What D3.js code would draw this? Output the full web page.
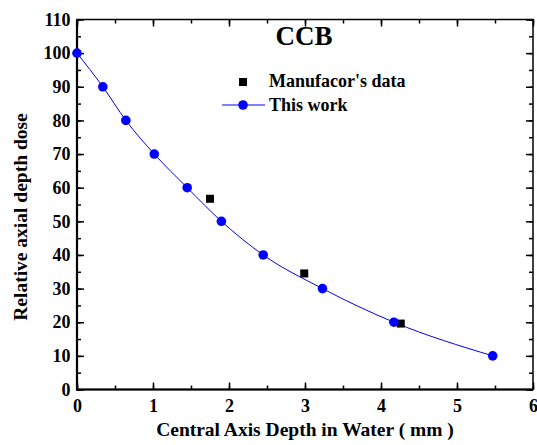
<!DOCTYPE html>
<html>
<head>
<meta charset="utf-8">
<script src="https://cdn.jsdelivr.net/npm/d3@7"></script>
<style>
  body { margin: 0; background: #fff; }
  text { font-family: "Liberation Serif", "Times New Roman", serif; font-weight: bold; }
</style>
</head>
<body>
<svg width="537" height="445"></svg>
<script>
// data
const workDepth = [0, 0.34, 0.643, 1.017, 1.45, 1.9, 2.45, 3.23, 4.17, 5.47];
const workDose  = [100, 90, 80, 70, 60, 50, 40, 30, 20, 10];
const manuDepth = [1.75, 2.99, 4.26];
const manuDose  = [56.7, 34.5, 19.6];
const xTicks = [0, 1, 2, 3, 4, 5, 6];
const yTicks = [0, 10, 20, 30, 40, 50, 60, 70, 80, 90, 100, 110];

const margin = { left: 77, right: 4, top: 19.5, bottom: 55.5 };
const width = 537, height = 445;
const svg = d3.select("svg");

const x = d3.scaleLinear().domain([0, 6]).range([margin.left, width - margin.right]);
const y = d3.scaleLinear().domain([0, 110]).range([height - margin.bottom, margin.top]);

const xMinor = d3.range(0, 6.01, 0.5);
const yMinor = d3.range(0, 110.1, 5);

// minor ticks
svg.append("g").attr("transform", `translate(0,${y(0)})`)
    .call(d3.axisBottom(x).tickValues(xMinor).tickSize(-4).tickFormat(""));
svg.append("g").attr("transform", `translate(0,${y(110)})`)
    .call(d3.axisTop(x).tickValues(xMinor).tickSize(-4).tickFormat(""));
svg.append("g").attr("transform", `translate(${x(0)},0)`)
    .call(d3.axisLeft(y).tickValues(yMinor).tickSize(-4).tickFormat(""));
svg.append("g").attr("transform", `translate(${x(6)},0)`)
    .call(d3.axisRight(y).tickValues(yMinor).tickSize(-4).tickFormat(""));

// major ticks + labels
const xAxis = svg.append("g").attr("transform", `translate(0,${y(0)})`)
    .call(d3.axisBottom(x).tickValues(xTicks).tickFormat(d3.format("d"))
        .tickSizeInner(-7).tickSizeOuter(0).tickPadding(10));
const yAxis = svg.append("g").attr("transform", `translate(${x(0)},0)`)
    .call(d3.axisLeft(y).tickValues(yTicks).tickFormat(d3.format("d"))
        .tickSizeInner(-7).tickSizeOuter(0).tickPadding(6.5));
svg.append("g").attr("transform", `translate(0,${y(110)})`)
    .call(d3.axisTop(x).tickValues(xTicks).tickSizeInner(-7).tickSizeOuter(0).tickFormat(""));
svg.append("g").attr("transform", `translate(${x(6)},0)`)
    .call(d3.axisRight(y).tickValues(yTicks).tickSizeInner(-7).tickSizeOuter(0).tickFormat(""));

svg.selectAll(".tick line").attr("stroke", "#000").attr("stroke-width", 1.5);
svg.selectAll(".domain").remove();
[xAxis, yAxis].forEach(a => a.selectAll("text")
    .attr("font-size", 18).attr("font-family", "Liberation Serif").attr("font-weight", "bold").attr("fill", "#000"));

// frame
svg.append("rect")
    .attr("x", x(0)).attr("y", y(110))
    .attr("width", x(6) - x(0)).attr("height", y(0) - y(110))
    .attr("fill", "none").attr("stroke", "#000").attr("stroke-width", 1.5);
svg.append("line").attr("x1", x(0)).attr("x2", x(0)).attr("y1", y(110)).attr("y2", y(0) + 1)
    .attr("stroke", "#000").attr("stroke-width", 2.2);
svg.append("line").attr("x1", x(0) - 1).attr("x2", x(6)).attr("y1", y(0)).attr("y2", y(0))
    .attr("stroke", "#000").attr("stroke-width", 2.2);

// this work curve
const work = workDepth.map((d, i) => ({ x: d, y: workDose[i] }));
svg.append("path").datum(work)
    .attr("fill", "none").attr("stroke", "#0000ff").attr("stroke-width", 1)
    .attr("d", d3.line().x(d => x(d.x)).y(d => y(d.y)).curve(d3.curveMonotoneX));

const manu = manuDepth.map((d, i) => ({ x: d, y: manuDose[i] }));
svg.selectAll(".sq").data(manu).enter().append("rect")
    .attr("x", d => x(d.x) - 4).attr("y", d => y(d.y) - 4)
    .attr("width", 8).attr("height", 8).attr("fill", "#000");

svg.selectAll(".dot").data(work).enter().append("circle")
    .attr("cx", d => x(d.x)).attr("cy", d => y(d.y)).attr("r", 4.8).attr("fill", "#0000ff");

// title and legend
svg.append("text").attr("x", 304).attr("y", 45).attr("text-anchor", "middle")
    .attr("font-size", 27).text("CCB");

svg.append("rect").attr("x", 239).attr("y", 78).attr("width", 8).attr("height", 8).attr("fill", "#000");
svg.append("text").attr("x", 269).attr("y", 87).attr("font-size", 18).text("Manufacor's data");
svg.append("line").attr("x1", 222).attr("x2", 265).attr("y1", 105).attr("y2", 105)
    .attr("stroke", "#0000ff").attr("stroke-width", 1);
svg.append("circle").attr("cx", 243).attr("cy", 105).attr("r", 4.8).attr("fill", "#0000ff");
svg.append("text").attr("x", 269).attr("y", 111).attr("font-size", 18).text("This work");

// axis titles
svg.append("text").attr("x", 305).attr("y", 436).attr("text-anchor", "middle")
    .attr("font-size", 19.5).text("Central Axis Depth in Water ( mm )");
svg.append("text").attr("transform", "translate(27,217) rotate(-90)").attr("text-anchor", "middle")
    .attr("font-size", 19.5).text("Relative axial depth dose");
</script>
</body>
</html>
